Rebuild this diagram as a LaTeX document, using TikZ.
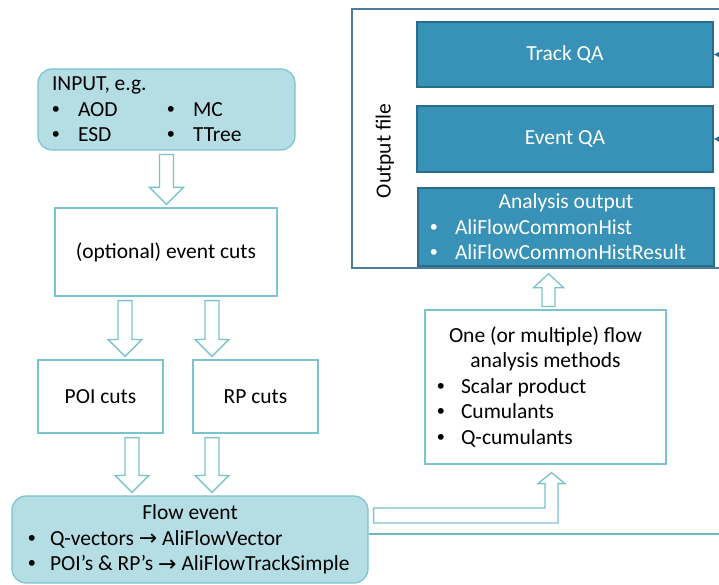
\documentclass[tikz,border=0pt]{standalone}
\usepackage{fontspec}
\setmainfont{Carlito}
\newfontfamily\bulletfont{Liberation Sans}
\newfontfamily\arrowfont{DejaVu Sans}
\usetikzlibrary{arrows.meta,calc,positioning}
\definecolor{boxline}{RGB}{122,196,206}
\definecolor{boxfill}{RGB}{180,221,228}
\definecolor{darkfill}{RGB}{56,146,184}
\definecolor{darkline}{RGB}{42,108,140}
\definecolor{fileline}{RGB}{78,122,156}

\newcommand{\bul}{{\bulletfont\textbullet}}
\newcommand{\rarr}{\raisebox{-0.5pt}{\arrowfont\fontsize{22pt}{22pt}\selectfont →}}
\newcommand{\plainspace}{\spaceskip=0pt\xspaceskip=0pt\relax}

% hollow block arrow pointing down: from node, to node, x offset from the from-node centre
\newcommand{\hollowdown}[3]{%
  \draw[hollow] let \p1=(#1.south), \p2=(#2.north) in
    ({\x1+#3pt-7pt},{\y1-4pt}) -- ({\x1+#3pt+7pt},{\y1-4pt})
    -- ({\x1+#3pt+7pt},{\y2+20pt}) -- ({\x1+#3pt+17pt},{\y2+20pt})
    -- ({\x1+#3pt},{\y2+3pt}) -- ({\x1+#3pt-17pt},{\y2+20pt})
    -- ({\x1+#3pt-7pt},{\y2+20pt}) -- cycle;
}

\begin{document}
\begin{tikzpicture}[x=1pt,y=-1pt,
  font=\fontsize{21.5pt}{25.5pt}\selectfont,
  lightbox/.style={draw=boxline, fill=boxfill, line width=1.2pt, rounded corners=14pt},
  plainbox/.style={draw=boxline, fill=white, line width=1.2pt},
  darkbox/.style={draw=darkline, fill=darkfill, text=white, line width=1.2pt},
  listbox/.style={align=flush left, execute at begin node=\plainspace},
  hollow/.style={draw=boxline, fill=white, line width=1.3pt, line join=miter},
  flowline/.style={draw=boxline!85!darkline, line width=1.4pt},
  qaarrow/.style={draw=darkline, line width=1.2pt, -{Latex[length=7pt,width=8pt]}}]

\useasboundingbox (0,0) rectangle (719,585);
\clip (0,0) rectangle (719,585);
\fill[white] (0,0) rectangle (719,585);

% ── left column ──────────────────────────────────────────────────────────
\node[lightbox, listbox, minimum width=257pt, minimum height=81pt, inner xsep=14pt,
      text width=229pt] (input) at (166.5,109.5) {
  INPUT, e.g.\\
  \makebox[26pt][l]{\bul}\makebox[89pt][l]{AOD}\makebox[26pt][l]{\bul}MC\\
  \makebox[26pt][l]{\bul}\makebox[89pt][l]{ESD}\makebox[26pt][l]{\bul}TTree
};

\node[plainbox, minimum width=222pt, minimum height=88pt] (evcuts) at (166,252) {(optional) event cuts};

\node[plainbox, minimum width=125pt, minimum height=73pt] (poicuts) at (100.5,396.5) {POI cuts};
\node[plainbox, minimum width=125pt, minimum height=73pt] (rpcuts) at (255.5,396.5) {RP cuts};

\node[lightbox, listbox, minimum width=356pt, minimum height=87pt, inner xsep=16pt, inner ysep=2pt,
      text width=324pt] (flowev) at (190,539.5) {
  \makebox[324pt]{Flow event}\\
  \makebox[22pt][l]{\bul}Q-vectors \rarr{} AliFlowVector\\
  \makebox[22pt][l]{\bul}POI’s \& RP’s \rarr{} AliFlowTrackSimple
};

\hollowdown{input}{evcuts}{0}
\hollowdown{evcuts}{poicuts}{-41}
\hollowdown{evcuts}{rpcuts}{46}
\hollowdown{poicuts}{flowev}{31.5}
\hollowdown{rpcuts}{flowev}{-43.5}

% ── right column ─────────────────────────────────────────────────────────
\node[draw=fileline, line width=1.4pt, minimum width=388pt, minimum height=259pt] (outfile) at (546,138.5) {};
\node[rotate=90] (filelabel) at (385,151) {Output file};

\node[darkbox, minimum width=296pt, minimum height=65pt] (trackqa) at (565,54.5) {Track QA};
\node[darkbox, minimum width=296pt, minimum height=66pt] (eventqa) at (565,139) {Event QA};
\node[darkbox, listbox, minimum width=296pt, minimum height=78pt, inner xsep=12pt, inner ysep=1pt,
      text width=272pt] (anaout) at (566,227) {
  \makebox[272pt]{Analysis output}\\
  \makebox[25pt][l]{\bul}AliFlowCommonHist\\
  \makebox[25pt][l]{\bul}AliFlowCommonHistResult
};

\node[plainbox, listbox, minimum width=241pt, minimum height=154pt, inner xsep=12pt,
      text width=217pt] (methods) at (545.5,387) {
  \makebox[217pt]{One (or multiple) flow}\\
  \makebox[217pt]{analysis methods}\\
  \makebox[24pt][l]{\bul}Scalar product\\
  \makebox[24pt][l]{\bul}Cumulants\\
  \makebox[24pt][l]{\bul}Q-cumulants
};

% methods -> output file
\draw[hollow] let \p1=(methods.north), \p2=(outfile.south) in
  ({\x1-3.5pt},{\y1+3pt}) -- ({\x1+9.5pt},{\y1+3pt}) -- ({\x1+9.5pt},{\y2-19pt})
  -- ({\x1+18pt},{\y2-19pt}) -- ({\x1+3pt},{\y2-5pt}) -- ({\x1-12pt},{\y2-19pt})
  -- ({\x1-3.5pt},{\y2-19pt}) -- cycle;

% flow event -> methods (bent)
\draw[hollow] let \p1=(flowev.east), \p2=(methods.south) in
  ({\x1+5pt},{\y1+16.5pt}) -- ({\x1+5pt},{\y1+31.5pt}) -- ({\x2-0.5pt},{\y1+31.5pt})
  -- ({\x2-0.5pt},{\y2-19pt}) -- ({\x2-7.5pt},{\y2-19pt}) -- ({\x2+6pt},{\y2-8pt})
  -- ({\x2+19.5pt},{\y2-19pt}) -- ({\x2+12.5pt},{\y2-19pt})
  -- ({\x2+12.5pt},{\y1+16.5pt}) -- cycle;

% flow event -> QA (runs off to the right)
\coordinate (bus) at (745,534);
\draw[flowline] ([yshift=5.5pt]flowev.east) -- (bus);
\draw[qaarrow] (bus) |- (trackqa.east);
\draw[qaarrow] (bus) |- (eventqa.east);

\end{tikzpicture}
\end{document}
